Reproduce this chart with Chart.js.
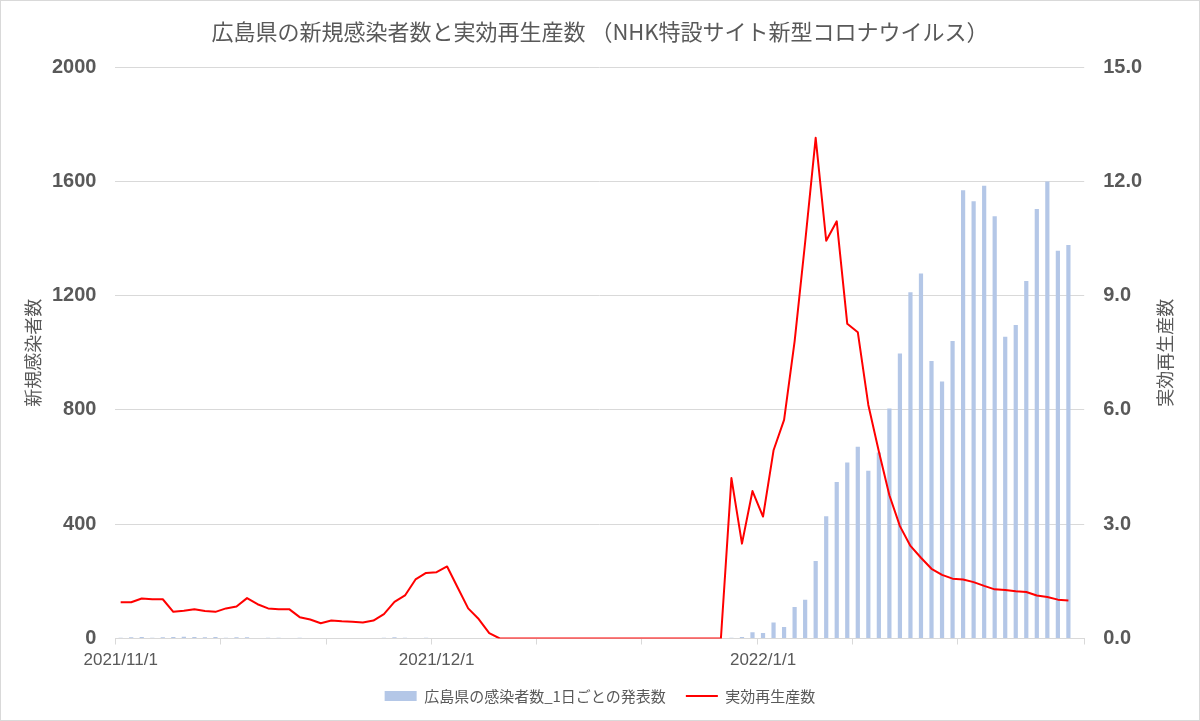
<!DOCTYPE html>
<html>
<head>
<meta charset="utf-8">
<script src="https://cdn.jsdelivr.net/npm/chart.js@4"></script>
<style>
    html, body { margin: 0; padding: 0; background: #fff; }
    #wrap { width: 1200px; height: 721px; }
</style>
</head>
<body>
<div id="wrap"><canvas id="hiroshima"></canvas></div>
<script>
// 2021/11/1 - 2022/1/31 (last day has no data)
const days = [];
for (let d = new Date(2021, 10, 1); d <= new Date(2022, 0, 31); d.setDate(d.getDate() + 1)) {
    days.push(d.getFullYear() + '/' + (d.getMonth() + 1) + '/' + d.getDate());
}
const labelDays = ['2021/11/1', '2021/12/1', '2022/1/1'];
const tickDays = ['2021/11/1', '2021/11/11', '2021/11/21', '2021/12/1', '2021/12/11', '2021/12/21', '2022/1/1', '2022/1/10', '2022/1/20'];

const cases = [
    3, 4, 5, 3, 4, 5, 6, 5, 4, 5, 3, 4, 4, 0, 3, 3, 2, 3, 2, 2, 0, 0, 2, 2, 0, 3, 4, 3, 2, 3,
    0, 0, 0, 0, 0, 0, 0, 0, 0, 0, 0, 0, 0, 0, 0, 0, 0, 0, 0, 0, 0, 0, 0, 0, 0, 0, 0, 0,
    3, 5, 22, 19, 56, 40, 110, 136, 271, 428, 548, 616, 671, 587, 651, 805, 997, 1212, 1277,
    971, 899, 1041, 1569, 1530, 1584, 1478, 1056, 1097, 1251, 1503, 1599, 1357, 1377,
    null
];
const rt = [
    0.95, 0.95, 1.05, 1.03, 1.03, 0.70, 0.73, 0.77, 0.72, 0.70, 0.79, 0.84, 1.06, 0.90, 0.79,
    0.77, 0.77, 0.56, 0.50, 0.40, 0.47, 0.45, 0.44, 0.42, 0.47, 0.64, 0.96, 1.13, 1.55, 1.72,
    1.74, 1.89, 1.34, 0.79, 0.51, 0.14, 0,
    0, 0, 0, 0, 0, 0, 0, 0, 0, 0, 0, 0, 0, 0, 0, 0, 0, 0, 0, 0, 0,
    4.21, 2.49, 3.87, 3.20, 4.94, 5.74, 7.8, 10.4, 13.14, 10.44, 10.95, 8.26, 8.04, 6.13, 4.91,
    3.76, 2.95, 2.43, 2.12, 1.83, 1.67, 1.57, 1.55, 1.48, 1.38, 1.29, 1.27, 1.24, 1.22, 1.13,
    1.09, 1.02, 1.00,
    null
];
const leftTicks = [0, 400, 800, 1200, 1600, 2000];
const rightTicks = [0, 3, 6, 9, 12, 15];

const gray = '#595959';
const gridGray = '#D9D9D9';

// frame + right axis title (reads bottom to top like the left one)
const extras = {
    id: 'extras',
    beforeDraw(chart) {
        const c = chart.ctx;
        c.save();
        c.fillStyle = '#fff';
        c.fillRect(0, 0, chart.width, chart.height);
        c.restore();
    },
    afterDraw(chart) {
        const c = chart.ctx;
        const area = chart.chartArea;
        c.save();
        c.strokeStyle = gridGray;
        c.lineWidth = 1;
        c.strokeRect(0.5, 0.5, chart.width - 1, chart.height - 1);
        c.translate(1165, (area.top + area.bottom) / 2);
        c.rotate(-Math.PI / 2);
        c.fillStyle = gray;
        c.font = '18px "Noto Sans CJK JP"';
        c.textAlign = 'center';
        c.textBaseline = 'middle';
        c.fillText('実効再生産数', 0, 0);
        c.restore();
    }
};

document.addEventListener('DOMContentLoaded', function () {
    const ctx1 = document.getElementById('hiroshima').getContext('2d');
    const chartHiroshima = new Chart(ctx1, {
        data: {
            labels: days,
            datasets: [{
                type: 'bar',
                label: '広島県の感染者数_1日ごとの発表数',
                data: cases,
                backgroundColor: '#B4C7E7',
                borderWidth: 0,
                barPercentage: 0.4,
                categoryPercentage: 1.0,
                pointStyle: 'rect',
                yAxisID: 'y',
                order: 1
            }, {
                type: 'line',
                label: '実効再生産数',
                data: rt,
                borderColor: '#FF0000',
                backgroundColor: '#FF0000',
                borderWidth: 2,
                borderJoinStyle: 'round',
                pointRadius: 0,
                pointStyle: 'line',
                tension: 0,
                yAxisID: 'y1',
                order: 0
            }]
        },
        options: {
            responsive: true,
            maintainAspectRatio: false,
            animation: false,
            layout: {
                padding: {left: 0, right: 0, top: 0, bottom: 7.5}
            },
            scales: {
                x: {
                    type: 'category',
                    grid: {
                        offset: true,
                        drawOnChartArea: false,
                        drawTicks: true,
                        tickLength: 6,
                        color: (c) => (c.index === undefined || tickDays.includes(days[c.index])) ? gridGray : 'rgba(0,0,0,0)'
                    },
                    border: {display: true, color: gridGray},
                    ticks: {
                        autoSkip: false,
                        maxRotation: 0,
                        minRotation: 0,
                        padding: 6,
                        color: gray,
                        font: {family: '"Liberation Sans", Arial', size: 17},
                        callback: function (value, index) {
                            return labelDays.includes(days[index]) ? days[index] : '';
                        }
                    },
                    afterFit: (scale) => { scale.height = 30; }
                },
                y: {
                    position: 'left',
                    min: 0,
                    max: 2000,
                    afterBuildTicks: (scale) => { scale.ticks = leftTicks.map(v => ({value: v})); },
                    grid: {color: gridGray, drawTicks: false},
                    border: {display: false},
                    ticks: {
                        padding: 19,
                        color: gray,
                        font: {family: '"Liberation Sans", Arial', size: 20, weight: 'bold'},
                        callback: (v) => String(v)
                    },
                    title: {
                        display: true,
                        text: '新規感染者数',
                        color: gray,
                        font: {family: '"Noto Sans CJK JP"', size: 18},
                        padding: {top: 22, bottom: 0}
                    },
                    afterFit: (scale) => { scale.width = 115.4; }
                },
                y1: {
                    position: 'right',
                    min: 0,
                    max: 15,
                    afterBuildTicks: (scale) => { scale.ticks = rightTicks.map(v => ({value: v})); },
                    grid: {drawOnChartArea: false, drawTicks: false},
                    border: {display: false},
                    ticks: {
                        padding: 19,
                        color: gray,
                        font: {family: '"Liberation Sans", Arial', size: 20, weight: 'bold'},
                        callback: (v) => Number(v).toFixed(1)
                    },
                    afterFit: (scale) => { scale.width = 115.8; }
                }
            },
            plugins: {
                title: {
                    display: true,
                    text: '広島県の新規感染者数と実効再生産数 （NHK特設サイト新型コロナウイルス）',
                    color: gray,
                    font: {family: '"Noto Sans CJK JP"', size: 22, weight: 'normal'},
                    padding: {top: 18, bottom: 22.6}
                },
                legend: {
                    position: 'bottom',
                    labels: {
                        usePointStyle: true,
                        pointStyleWidth: 32,
                        boxHeight: 10,
                        padding: 20,
                        color: gray,
                        font: {family: '"Noto Sans CJK JP"', size: 15},
                        sort: (a, b) => a.datasetIndex - b.datasetIndex
                    }
                },
                tooltip: {enabled: false}
            }
        },
        plugins: [extras]
    });
});
</script>
</body>
</html>
